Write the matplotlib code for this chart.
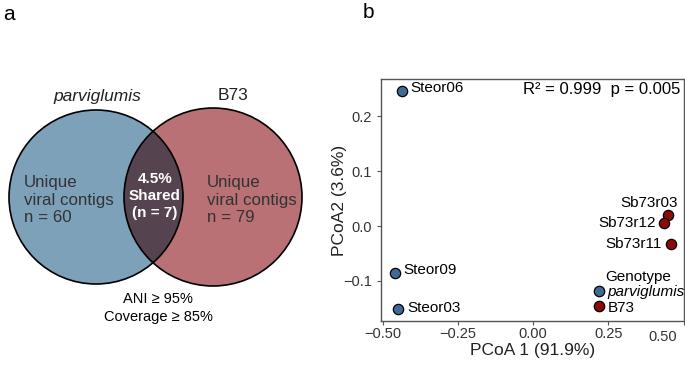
import matplotlib
matplotlib.use("Agg")
import matplotlib.pyplot as plt
from matplotlib.patches import Circle
from matplotlib.lines import Line2D
from matplotlib.transforms import ScaledTranslation

plt.rcParams['font.family'] = ['Liberation Sans', 'DejaVu Sans']

# venn counts
n_parv = 60
n_b73 = 79
n_shared = 7
shared_pct = 4.5

# PCoA scores
samples = ["Steor06", "Steor09", "Steor03", "Sb73r03", "Sb73r12", "Sb73r11"]
pc1 = [-0.434, -0.458, -0.450, 0.450, 0.435, 0.457]
pc2 = [0.2455, -0.086, -0.152, 0.020, 0.006, -0.033]
genotype = ["parviglumis", "parviglumis", "parviglumis", "B73", "B73", "B73"]
geno_colors = {"parviglumis": "#3d6b96", "B73": "#8e0a0a"}

fig = plt.figure(figsize=(6.85, 3.7), dpi=100)

# ---- panel a: venn, drawn in pixel units ----
axa = fig.add_axes([0, 0, 340 / 685, 1])
axa.set_xlim(0, 340)
axa.set_ylim(370, 0)
axa.set_aspect("equal")
axa.axis("off")

c_blue = Circle((96, 197), 87, facecolor="#7ea1ba", edgecolor="none")
c_red = Circle((213, 197), 89, facecolor="#b97175", edgecolor="none")
axa.add_patch(c_blue)
axa.add_patch(c_red)
lens = Circle((96, 197), 87, facecolor="#55444f", edgecolor="none")
axa.add_patch(lens)
lens.set_clip_path(c_red)
axa.add_patch(Circle((96, 197), 87, facecolor="none", edgecolor="black", lw=1.2))
axa.add_patch(Circle((213, 197), 89, facecolor="none", edgecolor="black", lw=1.2))

axa.text(97, 96, "parviglumis", style="italic", ha="center", va="center", fontsize=12.5, color="#222222")
axa.text(233, 96, "B73", ha="center", va="center", fontsize=12.5, color="#222222")
axa.text(24, 200, "Unique\nviral contigs\nn = %d" % n_parv, ha="left", va="center",
         fontsize=12.2, color="#333333", linespacing=1.25)
axa.text(207, 200, "Unique\nviral contigs\nn = %d" % n_b73, ha="left", va="center",
         fontsize=12.2, color="#333333", linespacing=1.25)
axa.text(155, 196, "%.1f%%\nShared\n(n = %d)" % (shared_pct, n_shared), ha="center", va="center",
         fontsize=11, color="white", fontweight="bold", linespacing=1.25)
axa.text(158, 308, "ANI \u2265 95%\nCoverage \u2265 85%", ha="center", va="center",
         fontsize=10.5, color="black", linespacing=1.3)

fig.text(3 / 685, 1 - 14 / 370, "a", fontsize=15, ha="left", va="center")
fig.text(363 / 685, 1 - 13 / 370, "b", fontsize=15, ha="left", va="center")

# ---- panel b: PCoA ----
ax = fig.add_axes([381 / 685, 1 - 321 / 370, 302.5 / 685, 242 / 370])
for x, y, g in zip(pc1, pc2, genotype):
    ax.scatter(x, y, s=55, color=geno_colors[g], edgecolor="black", linewidth=0.9, zorder=3)

offsets = {"Steor06": (6, 2, "left"), "Steor09": (6, 2, "left"), "Steor03": (7, 1, "left"),
           "Sb73r03": (7, 9, "right"), "Sb73r12": (-6, 0, "right"), "Sb73r11": (-6, 0, "right")}
for name, x, y in zip(samples, pc1, pc2):
    dx, dy, ha = offsets[name]
    ax.annotate(name, (x, y), xytext=(dx, dy), textcoords="offset points",
                ha=ha, va="center", fontsize=11)

ax.set_xlim(-0.505, 0.5)
ax.set_ylim(-0.173, 0.2677)
ax.set_xticks([-0.5, -0.25, 0, 0.25, 0.5])
ax.set_xticklabels(["\u22120.50", "\u22120.25", "0.00", "0.25", "0.50"])
ax.set_yticks([-0.1, 0, 0.1, 0.2])
ax.set_yticklabels(["\u22120.1", "0.0", "0.1", "0.2"])
ax.tick_params(labelsize=10.5, length=3, color="#555555", labelcolor="#333333")
ax.tick_params(axis="x", pad=1.5)
lab = ax.get_xticklabels()[-1]
lab.set_horizontalalignment("right")
lab.set_transform(lab.get_transform() + ScaledTranslation(-5 / 72, -2 / 72, fig.dpi_scale_trans))
for sp in ax.spines.values():
    sp.set_color("#555555")
    sp.set_linewidth(1.0)
ax.set_xlabel("PCoA 1 (91.9%)", fontsize=12.5, color="#222222")
ax.set_ylabel("PCoA2 (3.6%)", fontsize=12.5, color="#222222")
ax.xaxis.set_label_coords(0.5, -0.12)
ax.yaxis.set_label_coords(-0.136, 0.5)
ax.xaxis.label.set_va("center")
ax.yaxis.label.set_va("center")

ax.text(0.99, 0.955, "R\u00b2 = 0.999  p = 0.005", transform=ax.transAxes, ha="right", va="center",
        fontsize=12)

handles = [Line2D([], [], marker="o", ls="none", markersize=7.5, markerfacecolor=geno_colors[g],
                  markeredgecolor="black", markeredgewidth=0.9) for g in ["parviglumis", "B73"]]
leg = ax.legend(handles, ["parviglumis", "B73"], title="Genotype", loc="lower right",
                bbox_to_anchor=(1.03, -0.005), frameon=False, fontsize=11, title_fontsize=11,
                handletextpad=0.05, labelspacing=0.1, borderpad=0.3, handlelength=1.0,
                borderaxespad=0.2)
leg.get_texts()[0].set_fontstyle("italic")
leg._legend_box.sep = 1

fig.savefig("out.png", dpi=100)
